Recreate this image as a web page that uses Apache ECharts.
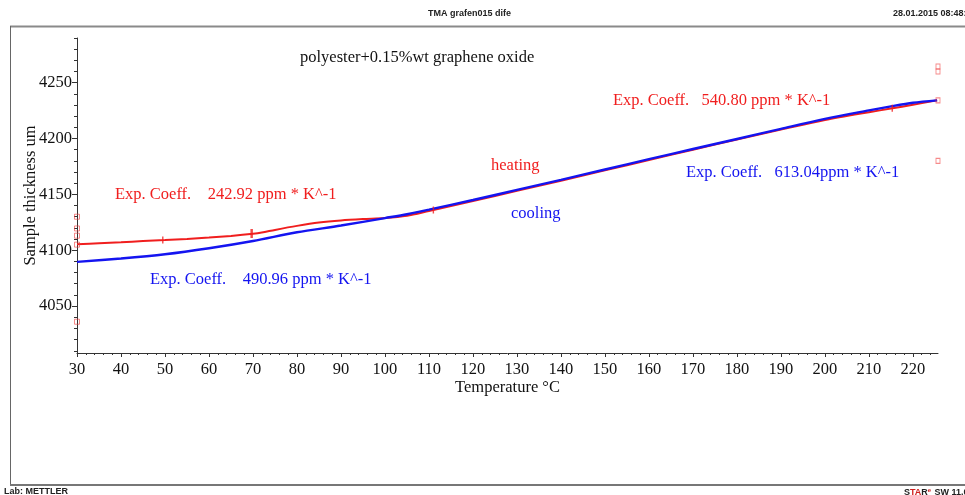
<!DOCTYPE html>
<html>
<head>
<meta charset="utf-8">
<title>TMA grafen015 dife</title>
<script src="https://cdn.jsdelivr.net/npm/echarts@6/dist/echarts.min.js"></script>
<style>
  html, body { margin: 0; padding: 0; background: #fff; }
  #chart { width: 965px; height: 495px; }
</style>
</head>
<body>
<div id="chart"></div>
<script>
// Heating run (red): temperature in °C and sample thickness in µm
const heatingTemp = [30, 35, 40, 45, 50, 55, 60, 65, 70, 72, 75, 80, 85, 90, 95, 100, 105, 110, 115, 120,
                     130, 140, 150, 160, 170, 180, 190, 200, 210, 215, 220, 225.5];
const heatingThickness = [4105.4, 4106.3, 4107.2, 4108.2, 4109.1, 4110.1, 4111.3, 4112.8, 4114.7, 4115.8,
                          4118.2, 4121.8, 4124.8, 4126.7, 4127.9, 4128.8, 4130.9, 4135.2, 4139.6, 4144.0,
                          4153.2, 4162.2, 4171.5, 4180.7, 4190.0, 4199.2, 4208.0, 4216.6, 4223.6, 4226.8,
                          4230.2, 4234.2];

// Cooling run (blue)
const coolingTemp = [30, 40, 50, 60, 70, 80, 90, 100, 105, 110, 120, 130, 140, 150, 160, 170, 180, 190,
                     200, 210, 215, 220, 225.5];
const coolingThickness = [4089.6, 4092.6, 4096.4, 4101.8, 4108.3, 4116.1, 4122.1, 4128.8, 4132.2, 4136.3,
                          4145.0, 4154.0, 4163.0, 4172.3, 4181.5, 4190.6, 4199.6, 4208.7, 4217.6, 4225.2,
                          4228.8, 4232.0, 4234.2];

// Evaluation marks on the heating curve
const evalTemp = [49.5, 69.7, 111, 215.3];
const evalThickness = [4109.2, 4115.0, 4136.0, 4227.0];

// Evaluation limit markers at the left and right edges of the range
const leftLimitMarks = [4130, 4119.5, 4113, 4105, 4036];
const rightLimitMarks = [4264.5, 4260, 4234.2, 4180];

// Axis ranges and tick labels
const xMin = 30, xMax = 225.7;
const yMin = 4008, yMax = 4290;
const xTickValues = [30, 40, 50, 60, 70, 80, 90, 100, 110, 120, 130, 140, 150, 160, 170, 180, 190, 200, 210, 220];
const yTickValues = [4050, 4100, 4150, 4200, 4250];

const xMinorTicks = [];
for (let t = 30; t <= 224; t += 2) xMinorTicks.push(t);
const yMinorTicks = [];
for (let v = 4010; v <= 4290; v += 10) yMinorTicks.push(v);

const RED = '#f01e1e';
const BLUE = '#1414f0';
const SERIF = '"Liberation Serif", "Times New Roman", serif';
const NARROW = '"Liberation Sans Narrow", "Liberation Sans", Arial, sans-serif';
const FS = 16.5;

const pairs = (xs, ys) => xs.map((x, i) => [x, ys[i]]);
const plain = v => String(v);

const chart = echarts.init(document.getElementById('chart'), null, { renderer: 'canvas' });

const axisLineStyle = { color: '#333', width: 1 };

chart.setOption({
  animation: false,
  backgroundColor: '#fff',
  grid: { left: 77, right: 27, top: 38, bottom: 142, containLabel: false },
  xAxis: [
    {
      type: 'value', min: xMin, max: xMax,
      name: 'Temperature °C', nameLocation: 'middle', nameGap: 26, nameMoveOverlap: false,
      nameTextStyle: { fontFamily: SERIF, fontSize: FS, color: '#111' },
      axisLine: { show: true, lineStyle: axisLineStyle },
      axisTick: { show: true, length: 4, lineStyle: axisLineStyle, customValues: xTickValues },
      axisLabel: { fontFamily: SERIF, fontSize: FS, color: '#111', margin: 8, customValues: xTickValues, formatter: plain },
      splitLine: { show: false }
    },
    {
      type: 'value', min: xMin, max: xMax, position: 'bottom',
      axisLine: { show: false },
      axisTick: { show: true, length: 2, lineStyle: axisLineStyle, customValues: xMinorTicks },
      axisLabel: { show: false },
      splitLine: { show: false }
    }
  ],
  yAxis: [
    {
      type: 'value', min: yMin, max: yMax,
      name: 'Sample thickness um', nameLocation: 'middle', nameGap: 38, nameMoveOverlap: false,
      nameTextStyle: { fontFamily: SERIF, fontSize: FS, color: '#111' },
      axisLine: { show: true, lineStyle: axisLineStyle },
      axisTick: { show: true, length: 5, lineStyle: axisLineStyle, customValues: yTickValues },
      axisLabel: { fontFamily: SERIF, fontSize: FS, color: '#111', margin: 5, customValues: yTickValues, formatter: plain },
      splitLine: { show: false }
    },
    {
      type: 'value', min: yMin, max: yMax, position: 'left',
      axisLine: { show: false },
      axisTick: { show: true, length: 3, lineStyle: axisLineStyle, customValues: yMinorTicks },
      axisLabel: { show: false },
      splitLine: { show: false }
    }
  ],
  series: [
    {
      name: 'heating', type: 'line', smooth: 0.3, showSymbol: false,
      data: pairs(heatingTemp, heatingThickness),
      lineStyle: { color: RED, width: 2 }, z: 3
    },
    {
      name: 'cooling', type: 'line', smooth: 0.3, showSymbol: false,
      data: pairs(coolingTemp, coolingThickness),
      lineStyle: { color: BLUE, width: 2.4 }, z: 4
    },
    {
      name: 'evaluation', type: 'scatter',
      data: pairs(evalTemp, evalThickness),
      symbol: 'rect',
      symbolSize: (v, p) => (p.dataIndex === 1 ? [2.5, 9] : [1.4, 7]),
      itemStyle: { color: RED }, z: 5
    },
    {
      name: 'limits-left', type: 'scatter',
      data: leftLimitMarks.map(v => [xMin, v]),
      symbol: 'rect', symbolSize: 5,
      itemStyle: { color: 'rgba(255,255,255,0)', borderColor: 'rgba(240,60,60,0.75)', borderWidth: 1 }, z: 6
    },
    {
      name: 'limits-right', type: 'scatter',
      data: rightLimitMarks.map(v => [xMax, v]),
      symbol: 'rect', symbolSize: [4, 5],
      itemStyle: { color: 'rgba(255,255,255,0)', borderColor: 'rgba(240,60,60,0.75)', borderWidth: 1 }, z: 6
    }
  ],
  graphic: [
    // page frame
    { type: 'line', shape: { x1: 10, y1: 26.5, x2: 965, y2: 26.5 }, style: { stroke: '#8a8a8a', lineWidth: 2 } },
    { type: 'line', shape: { x1: 10.5, y1: 26, x2: 10.5, y2: 485 }, style: { stroke: '#666', lineWidth: 1 } },
    { type: 'line', shape: { x1: 10, y1: 485, x2: 965, y2: 485 }, style: { stroke: '#777', lineWidth: 2 } },
    // header and footer
    { type: 'text', left: 428, top: 9, style: { text: 'TMA grafen015 dife', font: 'bold 9px ' + NARROW, fill: '#222' } },
    { type: 'text', left: 893, top: 9, style: { text: '28.01.2015 08:48:3', font: 'bold 9px ' + NARROW, fill: '#222' } },
    { type: 'text', left: 4, top: 487, style: { text: 'Lab: METTLER', font: 'bold 9px ' + NARROW, fill: '#222' } },
    {
      type: 'text', left: 904, top: 487,
      style: {
        text: '{k|S}{r|TA}{k|R}{e|e} {k|SW 11.0}',
        rich: {
          k: { font: 'bold 9px ' + NARROW, fill: '#222' },
          r: { font: 'bold 9px ' + NARROW, fill: '#d02020' },
          e: { font: 'bold 6px ' + NARROW, fill: '#d02020', verticalAlign: 'top' }
        }
      }
    },
    // annotations
    { type: 'text', left: 300, top: 49, style: { text: 'polyester+0.15%wt graphene oxide', font: FS + 'px ' + SERIF, fill: '#111' } },
    { type: 'text', left: 491, top: 157, style: { text: 'heating', font: FS + 'px ' + SERIF, fill: RED } },
    { type: 'text', left: 511, top: 205, style: { text: 'cooling', font: FS + 'px ' + SERIF, fill: BLUE } },
    { type: 'text', left: 613, top: 92, style: { text: 'Exp. Coeff.   540.80 ppm * K^-1', font: FS + 'px ' + SERIF, fill: RED } },
    { type: 'text', left: 686, top: 164, style: { text: 'Exp. Coeff.   613.04ppm * K^-1', font: FS + 'px ' + SERIF, fill: BLUE } },
    { type: 'text', left: 115, top: 186, style: { text: 'Exp. Coeff.    242.92 ppm * K^-1', font: FS + 'px ' + SERIF, fill: RED } },
    { type: 'text', left: 150, top: 271, style: { text: 'Exp. Coeff.    490.96 ppm * K^-1', font: FS + 'px ' + SERIF, fill: BLUE } }
  ]
});
</script>
</body>
</html>
